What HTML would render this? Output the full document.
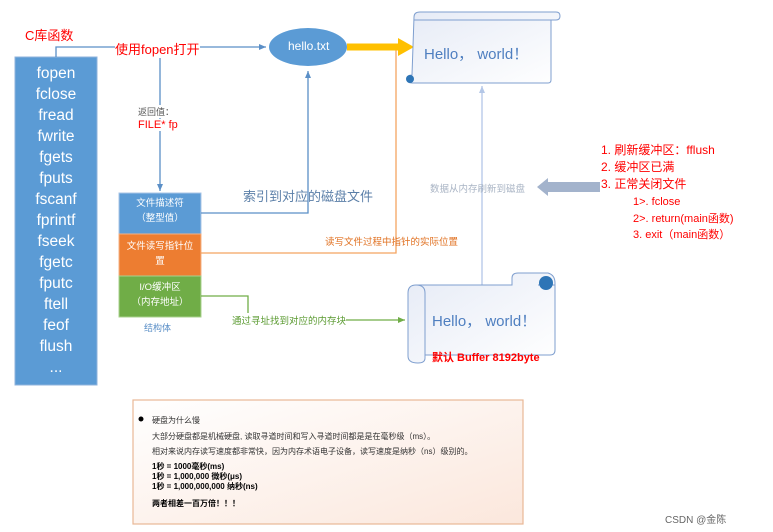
<!DOCTYPE html><html><head><meta charset="utf-8"><style>
body{margin:0;width:773px;height:532px;background:#fff;position:relative;overflow:hidden;font-family:"Liberation Sans","Noto Sans CJK SC",sans-serif}
.a{position:absolute;white-space:nowrap}
</style></head><body>
<svg width="773" height="532" style="position:absolute;left:0;top:0">
<defs>
<marker id="mb" markerWidth="8" markerHeight="8" refX="7" refY="4" orient="auto" markerUnits="userSpaceOnUse"><path d="M0,1 L7,4 L0,7z" fill="#5b8fc7"/></marker>
<marker id="mg" markerWidth="8" markerHeight="8" refX="7" refY="4" orient="auto" markerUnits="userSpaceOnUse"><path d="M0,1 L7,4 L0,7z" fill="#70ad47"/></marker>
<marker id="ml" markerWidth="8" markerHeight="8" refX="7" refY="4" orient="auto" markerUnits="userSpaceOnUse"><path d="M0,1 L7,4 L0,7z" fill="#b4c7e7"/></marker>
<linearGradient id="sg" x1="0" y1="0" x2="1" y2="1"><stop offset="0" stop-color="#e6ebf6"/><stop offset="1" stop-color="#ffffff"/></linearGradient>
<linearGradient id="bg" x1="0" y1="0" x2="1" y2="1"><stop offset="0" stop-color="#fff"/><stop offset="1" stop-color="#fbe7dc"/></linearGradient>
</defs>
<rect x="15" y="57" width="82" height="328" fill="#5b9bd5" stroke="#8fb3dc"/>
<path d="M56,57 V47 H266" fill="none" stroke="#5b8fc7" stroke-width="1.3" marker-end="url(#mb)"/>
<path d="M160,47 V191" fill="none" stroke="#5b8fc7" stroke-width="1.3" marker-end="url(#mb)"/>
<rect x="119" y="193" width="82" height="41" fill="#5b9bd5" stroke="#a9c4e6"/>
<rect x="119" y="234" width="82" height="42" fill="#ed7d31" stroke="#f4b183"/>
<rect x="119" y="276" width="82" height="41" fill="#70ad47" stroke="#a9d18e"/>
<path d="M201,213 H308 V71" fill="none" stroke="#5b8fc7" stroke-width="1.3" marker-end="url(#mb)"/>
<path d="M201,253 H396 V47 H410" fill="none" stroke="#f4a460" stroke-width="1.3"/>
<path d="M347,47 H400" stroke="#ffc000" stroke-width="7"/>
<path d="M398,38 L414,47 L398,56z" fill="#ffc000"/>
<ellipse cx="308" cy="47" rx="39" ry="19" fill="#5b9bd5"/>
<path d="M201,296 H248 V320 H405" fill="none" stroke="#70ad47" stroke-width="1.3" marker-end="url(#mg)"/>
<path d="M482,295 V86" fill="none" stroke="#b4c7e7" stroke-width="1.3" marker-end="url(#ml)"/>
<path d="M600,182 H548 V178 L537,187 L548,196 V192 H600z" fill="#a3b3cc"/>
<path d="M414,17 Q414,12 420,12 H556 Q560,12 560,16 Q560,20 556,20 H551 V80 Q551,83 548,83 H412 Q407,83 407,79 Q407,75 412,75 Z" fill="url(#sg)" stroke="#7f9fcf"/>
<path d="M414,20 H551" stroke="#7f9fcf" fill="none"/>
<circle cx="410" cy="79" r="4" fill="#2e75b6"/>
<path d="M416,285 H512 V278 Q512,273 518,273 H548 Q555,275 555,283 V350 Q555,355 550,355 H425 V358 Q425,363 418,363 Q408,363 408,356 V293 Q408,285 416,285Z" fill="url(#sg)" stroke="#7f9fcf"/>
<path d="M416,285 Q425,285 425,293 V355" fill="none" stroke="#7f9fcf"/>
<path d="M538,285 H555" stroke="#7f9fcf"/>
<circle cx="546" cy="283" r="7" fill="#2e75b6"/>
<rect x="133" y="400" width="390" height="124" fill="url(#bg)" stroke="#e8b896" stroke-width="1.2"/>
<circle cx="141" cy="419" r="2.5" fill="#000"/>
</svg>
<div class="a" style="left:25px;top:25px;color:#f00;font-size:13px">C库函数</div>
<div class="a" style="left:115px;top:39px;color:#f00;font-size:13px;background:#fff">使用fopen打开</div>
<div style="position:absolute;left:15px;top:63px;width:82px;text-align:center;color:#fff;font-size:15.5px;line-height:21px">fopen<br>fclose<br>fread<br>fwrite<br>fgets<br>fputs<br>fscanf<br>fprintf<br>fseek<br>fgetc<br>fputc<br>ftell<br>feof<br>flush<br>...</div>
<div class="a" style="left:138px;top:105px;color:#555;font-size:9px;background:#fff">返回值：</div>
<div class="a" style="left:138px;top:119px;color:#f00;font-size:11px;background:#fff">FILE* fp</div>
<div class="a" style="left:288px;top:39px;color:#fff;font-size:12px">hello.txt</div>
<div style="position:absolute;left:119px;top:196px;width:82px;text-align:center;color:#fff;font-size:9.5px;line-height:15px">文件描述符<br>（整型值）</div>
<div style="position:absolute;left:119px;top:239px;width:82px;text-align:center;color:#fff;font-size:9.5px;line-height:15px">文件读写指针位<br>置</div>
<div style="position:absolute;left:119px;top:280px;width:82px;text-align:center;color:#fff;font-size:9.5px;line-height:15px">I/O缓冲区<br>（内存地址）</div>
<div class="a" style="left:144px;top:321px;color:#5b8fc7;font-size:9px">结构体</div>
<div class="a" style="left:243px;top:186px;color:#5b7fa8;font-size:13px">索引到对应的磁盘文件</div>
<div class="a" style="left:325px;top:234px;color:#e07020;font-size:9.5px">读写文件过程中指针的实际位置</div>
<div class="a" style="left:232px;top:313px;color:#5a9a30;font-size:9.5px;background:#fff">通过寻址找到对应的内存块</div>
<div class="a" style="left:424px;top:43px;color:#4f7fc0;font-size:15px">Hello，&nbsp;world！</div>
<div class="a" style="left:432px;top:310px;color:#4f7fc0;font-size:15px">Hello，&nbsp;world！</div>
<div class="a" style="left:432px;top:349px;color:#f00;font-size:11px;font-weight:bold">默认 Buffer 8192byte</div>
<div class="a" style="left:430px;top:181px;color:#a9b4c4;font-size:9.5px">数据从内存刷新到磁盘</div>
<div class="a" style="left:601px;top:142px;color:#f00;font-size:12px;line-height:17px">1. 刷新缓冲区：fflush<br>2. 缓冲区已满<br>3. 正常关闭文件</div>
<div class="a" style="left:633px;top:194px;color:#f00;font-size:11px;line-height:16.5px">1&gt;. fclose<br>2&gt;. return(main函数)<br>3. exit（main函数）</div>
<div class="a" style="left:152px;top:413px;font-size:8px;color:#333;line-height:16px">硬盘为什么慢<br>大部分硬盘都是机械硬盘, 读取寻道时间和写入寻道时间都是是在毫秒级（ms）。</div>
<div class="a" style="left:152px;top:446px;font-size:8px;color:#333">相对来说内存读写速度都非常快，因为内存术语电子设备，读写速度是纳秒（ns）级别的。</div>
<div class="a" style="left:152px;top:462px;font-size:8px;color:#000;font-weight:bold;line-height:10px">1秒 = 1000毫秒(ms)<br>1秒 = 1,000,000 微秒(μs)<br>1秒 = 1,000,000,000 纳秒(ns)</div>
<div class="a" style="left:152px;top:498px;font-size:8px;color:#000;font-weight:bold">两者相差一百万倍！！！</div>
<div class="a" style="left:665px;top:511px;font-size:10px;color:#666">CSDN @金陈</div>
</body></html>
